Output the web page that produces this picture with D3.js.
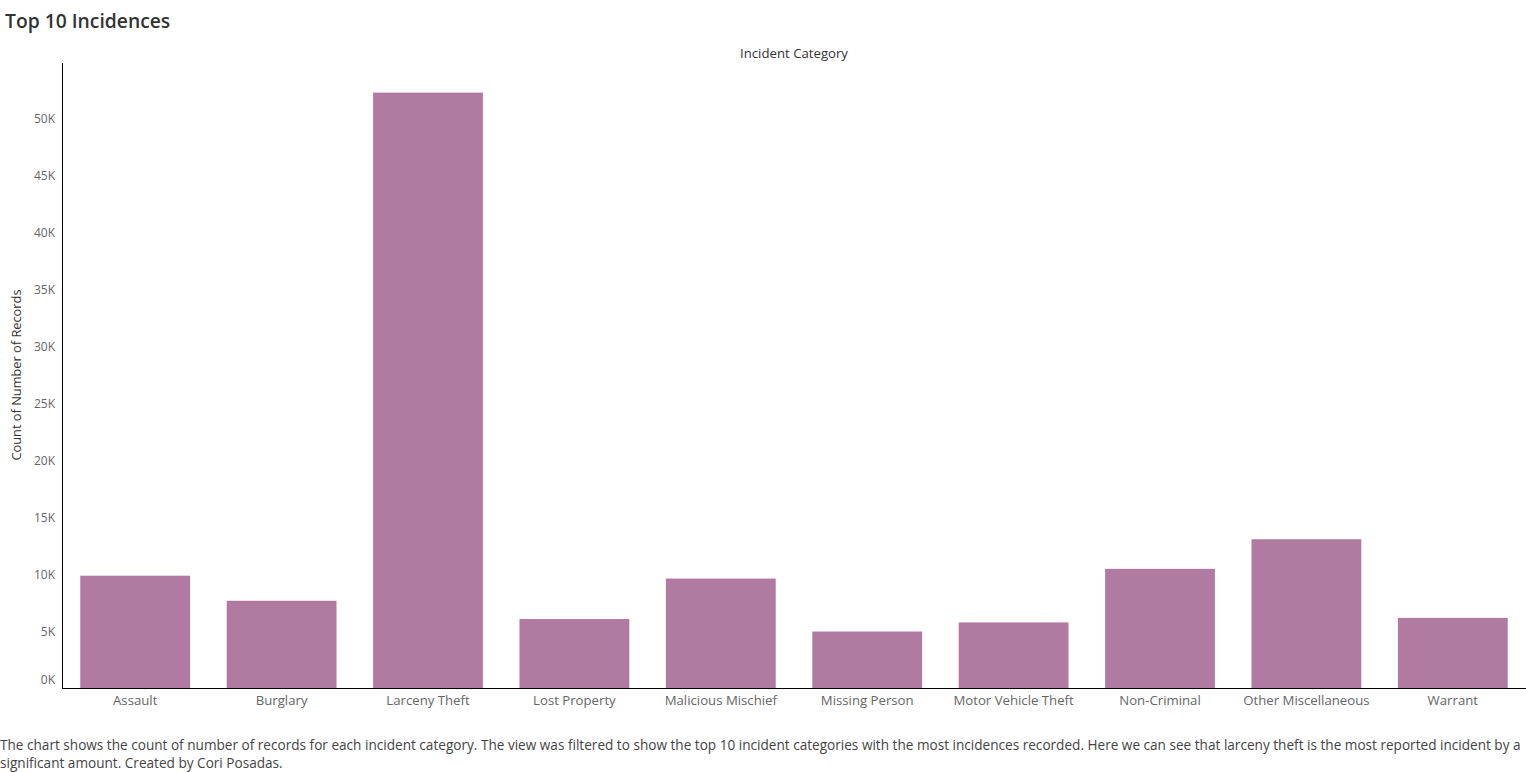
<!DOCTYPE html>
<html><head><meta charset="utf-8">
<script src="https://cdn.jsdelivr.net/npm/d3@7"></script>
<style>body{margin:0;background:#fff;} svg{display:block;font-family:"Open Sans","Noto Sans",sans-serif;}</style>
</head><body>
<script>
const categories = ["Assault","Burglary","Larceny Theft","Lost Property","Malicious Mischief","Missing Person","Motor Vehicle Theft","Non-Criminal","Other Miscellaneous","Warrant"];
const counts = [9900,7700,52300,6100,9650,5000,5800,10500,13100,6200];
const yTicks = [0,5000,10000,15000,20000,25000,30000,35000,40000,45000,50000];
const title = "Top 10 Incidences";
const xTitle = "Incident Category";
const yTitle = "Count of Number of Records";
const caption = ["The chart shows the count of number of records for each incident category. The view was filtered to show the top 10 incident categories with the most incidences recorded. Here we can see that larceny theft is the most reported incident by a",
"significant amount. Created by Cori Posadas."];

const W=1526,H=772;
const FF="Open Sans, Noto Sans, sans-serif";
const svg=d3.select("body").append("svg").attr("width",W).attr("height",H);
const x=d3.scaleBand().domain(categories).range([62,1526]).paddingInner(0.25).paddingOuter(0.125);
const y=d3.scaleLinear().domain([0,54900]).range([688.5,63]);

svg.append("text").attr("x",5).attr("y",28).attr("font-size",19.3).attr("font-weight",600).attr("fill","#333").text(title);
svg.append("text").attr("x",794).attr("y",58).attr("text-anchor","middle").attr("font-size",13.2).attr("fill","#333").text(xTitle);
svg.append("text").attr("transform","translate(21,375) rotate(-90)").attr("text-anchor","middle").attr("font-size",12.8).attr("fill","#333").text(yTitle);

svg.selectAll("rect.bar").data(categories).join("rect").attr("class","bar")
  .attr("x",d=>x(d)).attr("width",x.bandwidth())
  .attr("y",(d,i)=>y(counts[i])).attr("height",(d,i)=>y(0)-y(counts[i]))
  .attr("fill","#b07aa1");

const ya=svg.append("g").attr("transform","translate(62,0)")
  .call(d3.axisLeft(y).tickValues(yTicks).tickSize(0).tickPadding(7).tickFormat(d=>(d/1000)+"K"));
ya.select(".domain").attr("stroke","#000").attr("d","M0.5,63V688.5");
ya.selectAll("text").attr("font-size",12).attr("fill","#666").attr("font-family",FF)
  .attr("dy",d=>d===0?"-0.4em":"0.32em");

const xa=svg.append("g").attr("transform","translate(0,688)")
  .call(d3.axisBottom(x).tickSize(0).tickPadding(8));
xa.select(".domain").attr("stroke","#000").attr("d","M62,0.5H1526");
xa.selectAll("text").attr("font-size",13.2).attr("fill","#666").attr("font-family",FF);

svg.selectAll("text.cap").data(caption).join("text").attr("class","cap")
  .attr("x",0).attr("y",(d,i)=>750+i*18).attr("font-size",13.6).attr("fill","#444").text(d=>d);
</script>
</body></html>
